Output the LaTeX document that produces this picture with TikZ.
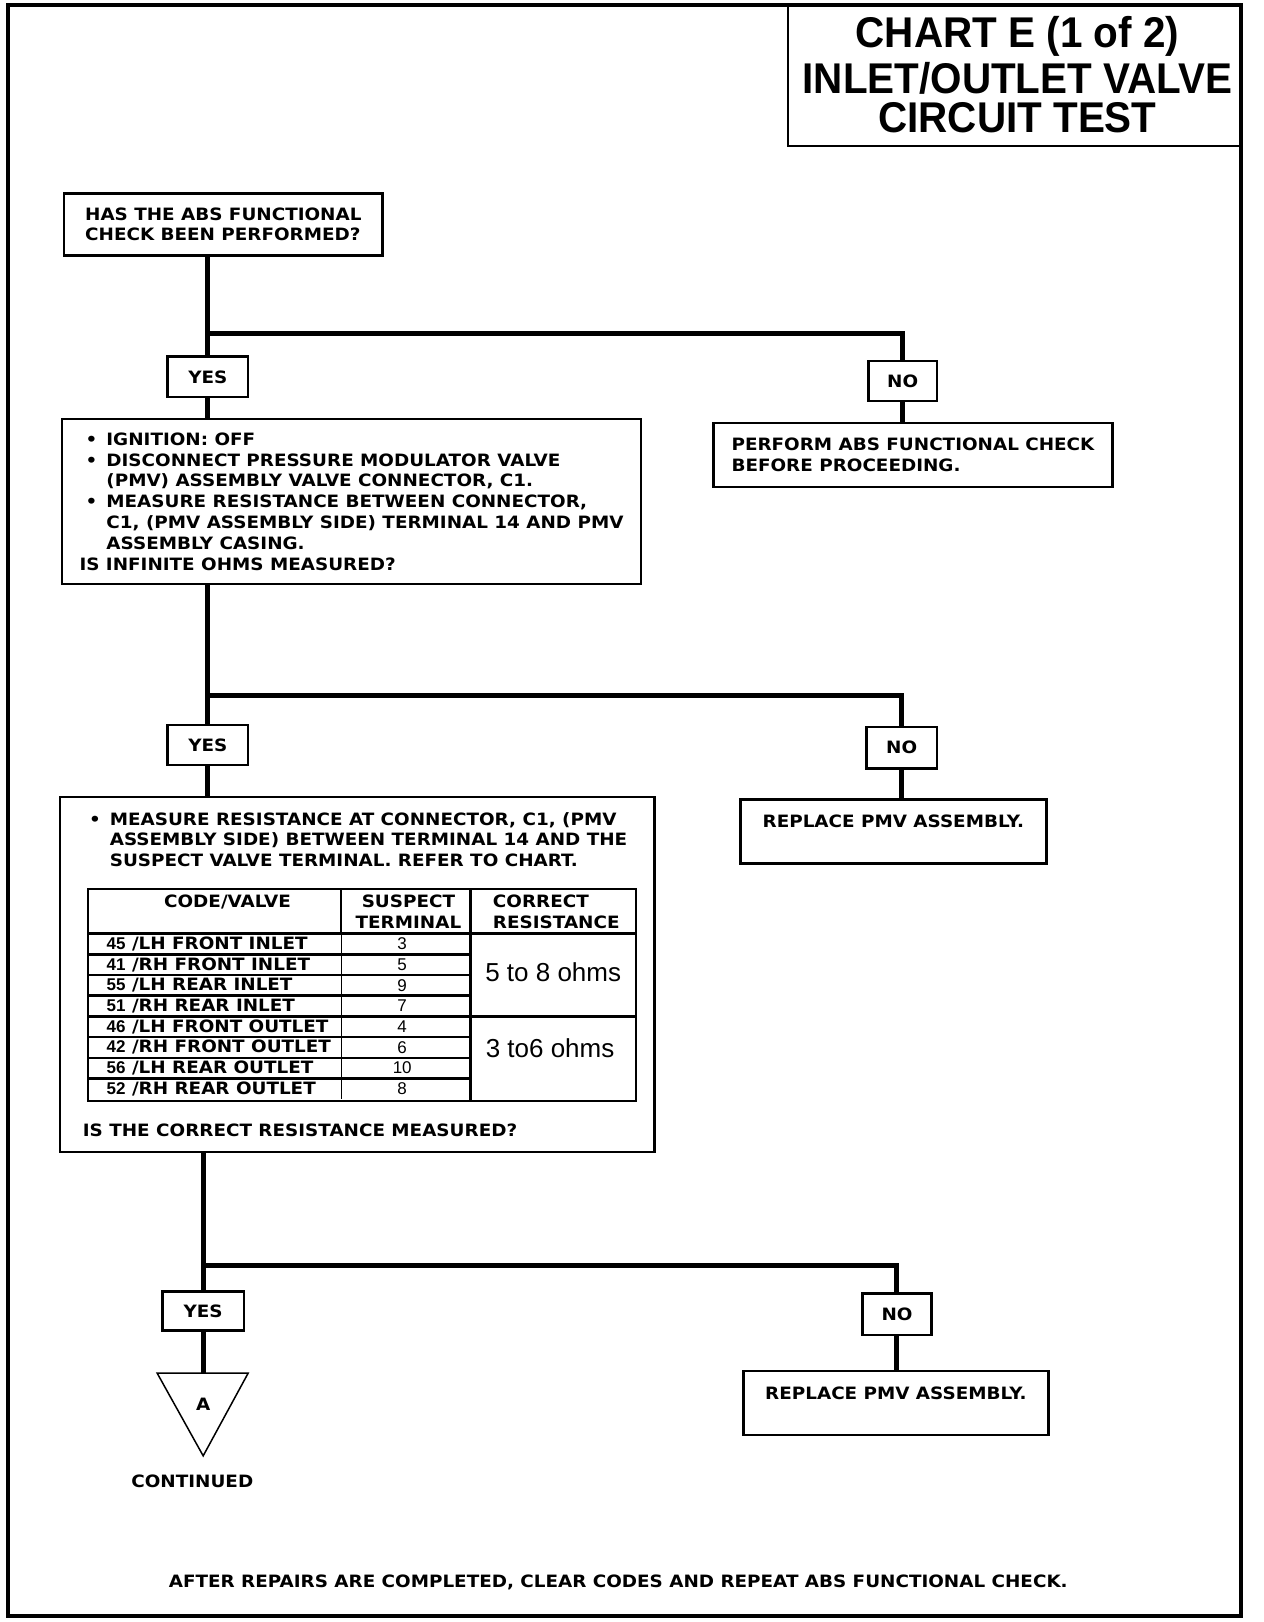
\documentclass[tikz,border=0pt]{standalone}
\usepackage{fontspec}
\newfontfamily\bodyfont{DejaVu Sans}[FakeStretch=1.08]
\newfontfamily\titlefont{Liberation Sans}[FakeStretch=0.94]
\newfontfamily\numfont{Liberation Sans}
\newcommand\bul{\makebox[20.7pt][l]{\textbullet}}
\newcommand\ind{\hspace*{20.7pt}}
\newcommand\lead{\hspace*{6.2pt}}
\begin{document}
\begin{tikzpicture}[x=1.034pt,y=-1.034pt,
  txt/.style={font=\bodyfont\bfseries\fontsize{17}{20.8}\selectfont, inner sep=0pt},
  box/.style={txt,draw,line width=2.5pt,align=left},
  yn/.style={txt,draw,line width=2.5pt},
  conn/.style={line width=5pt},
  num/.style={font=\numfont\fontsize{17}{18}\selectfont, inner sep=0pt},
  big/.style={font=\numfont\fontsize{26}{30}\selectfont, inner sep=0pt},
  ttl/.style={font=\titlefont\bfseries\fontsize{43}{46}\selectfont, inner sep=0pt},
  grid/.style={line width=2.5pt},
  thin/.style={line width=1pt}]
\useasboundingbox (0,0) rectangle (1222.4,1568.7);
\draw[line width=4pt] (8,5) rectangle (1200,1563);
% title
\node[draw,line width=2.5pt,minimum width=452.9pt,minimum height=140.6pt,inner sep=0pt] (title) at (981,73) {};
\node[ttl] (t1) at (984,35) {CHART E (1 of 2)};
\node[ttl] (t2) at (984,76) {INLET/OUTLET VALVE};
\node[ttl] (t3) at (984,114) {CIRCUIT TEST};
% boxes
\node[box,minimum width=318.5pt,minimum height=62pt] (b1) at (216,217)
  {HAS THE ABS FUNCTIONAL\\CHECK BEEN PERFORMED?};
\node[yn,minimum width=80.7pt,minimum height=40.3pt] (yes1) at (201,364.5) {YES};
\node[yn,minimum width=68.2pt,minimum height=40.3pt] (no1) at (873,368.5) {NO};
\node[box,minimum width=399.1pt,minimum height=64.1pt] (perf) at (883,440)
  {PERFORM ABS FUNCTIONAL CHECK\\BEFORE PROCEEDING.};
\node[box,minimum width=579pt,minimum height=165.4pt] (b2) at (340,485)
  {\lead\bul IGNITION: OFF\\
   \lead\bul DISCONNECT PRESSURE MODULATOR VALVE\\
   \lead\ind (PMV) ASSEMBLY VALVE CONNECTOR, C1.\\
   \lead\bul MEASURE RESISTANCE BETWEEN CONNECTOR,\\
   \lead\ind C1, (PMV ASSEMBLY SIDE) TERMINAL 14 AND PMV\\
   \lead\ind ASSEMBLY CASING.\\
   IS INFINITE OHMS MEASURED?};
\node[yn,minimum width=80.7pt,minimum height=40.3pt] (yes2) at (201,720.5) {YES};
\node[yn,minimum width=70.3pt,minimum height=41.4pt] (no2) at (872,723) {NO};
\node[box,minimum width=306.1pt,minimum height=64.1pt] (rep1) at (864,804)
  {REPLACE PMV ASSEMBLY.\\\mbox{}};
\node[box,minimum width=594.6pt,minimum height=354.7pt] (b3) at (345.5,942.5) {};
\node[txt,anchor=west,align=left] (b3t) at (86,812)
  {\bul MEASURE RESISTANCE AT CONNECTOR, C1, (PMV\\
   \ind ASSEMBLY SIDE) BETWEEN TERMINAL 14 AND THE\\
   \ind SUSPECT VALVE TERMINAL. REFER TO CHART.};
\node[txt,anchor=west] (b3q) at (80,1093) {IS THE CORRECT RESISTANCE MEASURED?};
% table
\draw[grid] (85,860) rectangle (615,1065);
\draw[grid] (85,903) -- (615,903);
\draw[grid] (455,860) -- (455,1065);
\draw[grid] (330,860) -- (330,903);
\draw[thin] (330,903) -- (330,1063);
\foreach \yy in {923,943,963,1003,1023,1043} \draw[grid] (85,\yy) -- (455,\yy);
\draw[grid] (85,983) -- (615,983);
\node[txt] (h1) at (220,872) {CODE/VALVE};
\node[txt,align=center] (h2) at (395,882) {SUSPECT\\TERMINAL};
\node[txt,align=left] (h3) at (538,882) {CORRECT\\RESISTANCE};
\node[big] (r1) at (535,940) {5 to 8 ohms};
\node[big] (r2) at (532,1014) {3 to6 ohms};
\foreach \yy/\c/\t/\n [count=\i] in {913/45/LH FRONT INLET/3, 933/41/RH FRONT INLET/5,
   953/55/LH REAR INLET/9, 973/51/RH REAR INLET/7, 993/46/LH FRONT OUTLET/4,
   1013/42/RH FRONT OUTLET/6, 1033/56/LH REAR OUTLET/10, 1053/52/RH REAR OUTLET/8} {
  \node[txt,anchor=west] (code\i) at (103,\yy) {{\numfont\c}\ /\t};
  \node[num] (term\i) at (389,\yy) {\n};
}
% bottom
\node[yn,minimum width=81.7pt,minimum height=39.3pt] (yes3) at (196.5,1268) {YES};
\node[yn,minimum width=69.3pt,minimum height=41.4pt] (no3) at (867.5,1271) {NO};
\node[box,minimum width=305pt,minimum height=64.1pt] (rep2) at (866.5,1357)
  {REPLACE PMV ASSEMBLY.\\\mbox{}};
\coordinate (tri) at (196.5,1328);
\draw[line width=1.5pt,line join=miter] (152,1328) -- (240,1328) -- (196.5,1408) -- cycle;
\node[txt] (triA) at (196.5,1358) {A};
\node[txt] (cont) at (186,1433) {CONTINUED};
\node[txt] (foot) at (598,1530) {AFTER REPAIRS ARE COMPLETED, CLEAR CODES AND REPEAT ABS FUNCTIONAL CHECK.};
% connectors
\coordinate (j1) at (201,323);
\coordinate (j2) at (201,673);
\coordinate (j3) at (196.5,1224);
\draw[conn] (b1.south -| yes1.north) -- (yes1.north);
\draw[conn] (j1) -| (no1.north);
\draw[conn] (yes1.south) -- (yes1.south |- b2.north);
\draw[conn] (no1.south) -- (no1.south |- perf.north);
\draw[conn] (b2.south -| yes2.north) -- (yes2.north);
\draw[conn] (j2) -| (no2.north);
\draw[conn] (yes2.south) -- (yes2.south |- b3.north);
\draw[conn] (no2.south) -- (no2.south |- rep1.north);
\draw[conn] (b3.south -| yes3.north) -- (yes3.north);
\draw[conn] (j3) -| (no3.north);
\draw[conn] (yes3.south) -- (tri);
\draw[conn] (no3.south) -- (no3.south |- rep2.north);
\end{tikzpicture}
\end{document}
